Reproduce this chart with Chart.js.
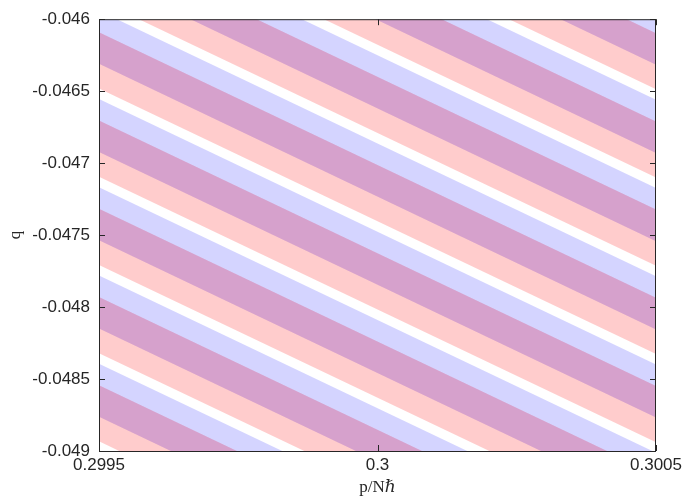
<!DOCTYPE html>
<html>
<head>
<meta charset="utf-8">
<script src="https://cdn.jsdelivr.net/npm/chart.js@4.4.0/dist/chart.umd.min.js"></script>
<style>
  html, body { margin: 0; padding: 0; background: #fff; }
  #caixa { width: 699px; height: 501px; }
</style>
</head>
<body>
<div id="caixa"><canvas id="grafico"></canvas></div>
<script>
// limites e ticks
const pMin = 0.2995, pMax = 0.3005;
const qMin = -0.049, qMax = -0.046;
const xTicks = [0.2995, 0.3, 0.3005];
const xTickLabels = ['0.2995', '0.3', '0.3005'];
const yTicks = [-0.046, -0.0465, -0.047, -0.0475, -0.048, -0.0485, -0.049];
const yTickLabels = ['-0.046', '-0.0465', '-0.047', '-0.0475', '-0.048', '-0.0485', '-0.049'];

// inclinacao das faixas (dq/dp)
const stripeSlope = -1.845;

// bordas das faixas, valor de q em p = 0.2995
const blueTop    = [-0.044102, -0.044715, -0.045328, -0.045941, -0.046554, -0.047167, -0.047780, -0.048393, -0.049006];
const blueBottom = [-0.044471, -0.045084, -0.045697, -0.046310, -0.046923, -0.047536, -0.048149, -0.048762, -0.049375];
const redTop     = [-0.044252, -0.044865, -0.045478, -0.046091, -0.046704, -0.047317, -0.047930, -0.048543, -0.049156];
const redBottom  = [-0.044642, -0.045255, -0.045868, -0.046481, -0.047094, -0.047707, -0.048320, -0.048933, -0.049546];

const corAzul = 'rgba(0, 0, 255, 0.17)';
const corVermelha = 'rgba(255, 0, 0, 0.2)';
const corSobreposicao = 'rgba(159, 79, 204, 0.1)'; // escurece a parte comum (roxo)

function linha(q0) {
    return [
        { x: pMin, y: q0 },
        { x: pMax, y: q0 + stripeSlope * (pMax - pMin) }
    ];
}

const base = { borderColor: 'rgba(0,0,0,0)', borderWidth: 0, pointRadius: 0, pointHoverRadius: 0 };

function faixa(topo, fundo, cor) {
    return [
        Object.assign({ data: linha(topo), fill: false }, base),
        Object.assign({ data: linha(fundo), fill: '-1', backgroundColor: cor }, base)
    ];
}

// o indice 0 e desenhado por ultimo (fica por cima): roxo, depois vermelho, depois azul
let datasets = [];
redTop.forEach((q, i) => { datasets = datasets.concat(faixa(q, blueBottom[i], corSobreposicao)); });
redTop.forEach((q, i) => { datasets = datasets.concat(faixa(q, redBottom[i], corVermelha)); });
blueTop.forEach((q, i) => { datasets = datasets.concat(faixa(q, blueBottom[i], corAzul)); });

const moldura = {
    id: 'moldura',
    afterDraw(chart) {
        const { ctx, chartArea: a, scales: { x, y } } = chart;
        const tam = 6;
        ctx.save();
        ctx.strokeStyle = '#262626';
        ctx.lineWidth = 1;
        ctx.beginPath();
        x.ticks.forEach(t => {
            const px = Math.round(x.getPixelForValue(t.value)) + 0.5;
            ctx.moveTo(px, a.bottom); ctx.lineTo(px, a.bottom - tam);
            ctx.moveTo(px, a.top); ctx.lineTo(px, a.top + tam);
        });
        y.ticks.forEach(t => {
            const py = Math.round(y.getPixelForValue(t.value)) + 0.5;
            ctx.moveTo(a.left, py); ctx.lineTo(a.left + tam, py);
            ctx.moveTo(a.right, py); ctx.lineTo(a.right - tam, py);
        });
        ctx.stroke();
        ctx.strokeRect(a.left + 0.5, a.top + 0.5, a.right - a.left - 1, a.bottom - a.top);
        ctx.restore();
    }
};

const fonteTicks = { family: 'Liberation Sans, Arial, sans-serif', size: 17 };
const fonteTitulo = { family: 'Liberation Serif, DejaVu Serif, serif', size: 17 };

new Chart(document.getElementById('grafico').getContext('2d'), {
    type: 'line',
    data: { datasets: datasets },
    options: {
        animation: false,
        responsive: true,
        maintainAspectRatio: false,
        layout: { padding: { top: 12, right: 43, left: 0, bottom: 0 } },
        plugins: { legend: { display: false }, tooltip: { enabled: false } },
        events: [],
        scales: {
            x: {
                type: 'linear',
                min: pMin,
                max: pMax,
                afterBuildTicks: s => { s.ticks = xTicks.map(v => ({ value: v })); },
                afterFit: s => { s.height = 50; },
                grid: { display: false, drawTicks: false },
                border: { display: false },
                ticks: {
                    autoSkip: false,
                    maxRotation: 0,
                    padding: 4,
                    color: '#262626',
                    font: fonteTicks,
                    callback: v => xTickLabels[xTicks.indexOf(v)]
                },
                title: { display: true, text: 'p/Nℏ', color: '#262626', font: fonteTitulo, padding: { top: 0, bottom: 3 } }
            },
            y: {
                type: 'linear',
                min: qMin,
                max: qMax,
                afterBuildTicks: s => { s.ticks = yTicks.map(v => ({ value: v })); },
                afterFit: s => { s.width = 99; },
                grid: { display: false, drawTicks: false },
                border: { display: false },
                ticks: {
                    autoSkip: false,
                    padding: 9,
                    color: '#262626',
                    font: fonteTicks,
                    callback: v => yTickLabels[yTicks.indexOf(v)]
                },
                title: { display: true, text: 'q', color: '#262626', font: fonteTitulo, padding: { top: 5, bottom: 0 } }
            }
        }
    },
    plugins: [moldura]
});
</script>
</body>
</html>
